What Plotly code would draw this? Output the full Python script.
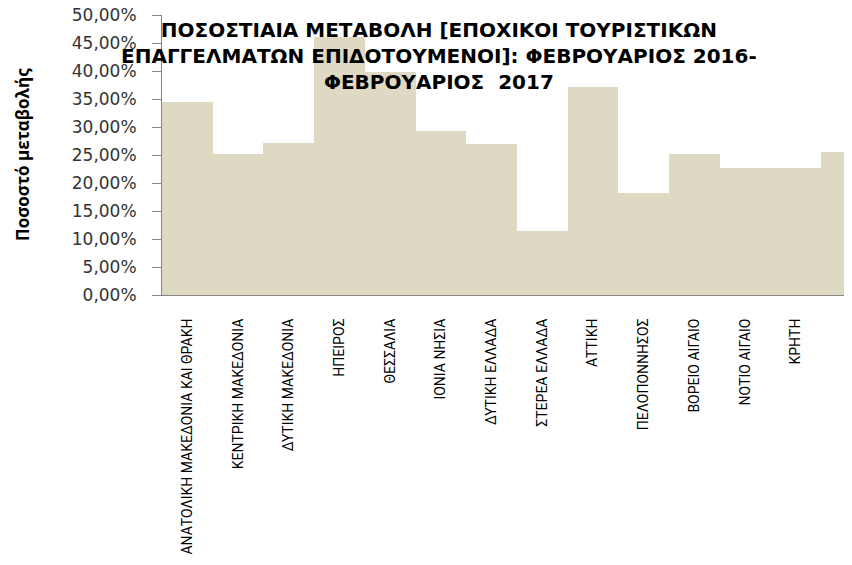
import plotly.graph_objects as go

categories = [
    "ΑΝΑΤΟΛΙΚΗ ΜΑΚΕΔΟΝΙΑ ΚΑΙ ΘΡΑΚΗ",
    "ΚΕΝΤΡΙΚΗ ΜΑΚΕΔΟΝΙΑ",
    "ΔΥΤΙΚΗ ΜΑΚΕΔΟΝΙΑ",
    "ΗΠΕΙΡΟΣ",
    "ΘΕΣΣΑΛΙΑ",
    "ΙΟΝΙΑ ΝΗΣΙΑ",
    "ΔΥΤΙΚΗ ΕΛΛΑΔΑ",
    "ΣΤΕΡΕΑ ΕΛΛΑΔΑ",
    "ΑΤΤΙΚΗ",
    "ΠΕΛΟΠΟΝΝΗΣΟΣ",
    "ΒΟΡΕΙΟ ΑΙΓΑΙΟ",
    "ΝΟΤΙΟ ΑΙΓΑΙΟ",
    "ΚΡΗΤΗ",
    "ΣΥΝΟΛΟ",
]
values = [0.344, 0.251, 0.272, 0.461, 0.398, 0.292, 0.269, 0.115,
          0.372, 0.183, 0.251, 0.226, 0.226, 0.256]

title_text = ("ΠΟΣΟΣΤΙΑΙΑ ΜΕΤΑΒΟΛΗ [ΕΠΟΧΙΚΟΙ ΤΟΥΡΙΣΤΙΚΩΝ<br>"
              "ΕΠΑΓΓΕΛΜΑΤΩΝ ΕΠΙΔΟΤΟΥΜΕΝΟΙ]: ΦΕΒΡΟΥΑΡΙΟΣ 2016-<br>"
              "ΦΕΒΡΟΥΑΡΙΟΣ  2017")
y_title = "Ποσοστό μεταβολής"

fig = go.Figure()
fig.add_trace(go.Bar(
    x=list(range(len(categories))),
    y=values,
    marker=dict(color="#DDD9C3", line=dict(width=0)),
    width=1.0,
    hoverinfo="y",
))

# page body has an 8px offset
OFF = 8
W, H = 852 - OFF, 565 - OFF
ml, mt = 162 - OFF, 15 - OFF
mb = H - (295 - OFF)
plot_w = W - ml
plot_h = H - mt - mb
bar_px = 50.7

def px_x(p):
    return (p - OFF - ml) / plot_w

def px_y(p):
    return 1 - (p - OFF - mt) / plot_h

fig.update_layout(
    width=W, height=H,
    margin=dict(l=ml, r=0, t=mt, b=mb, pad=0, autoexpand=False),
    plot_bgcolor="white", paper_bgcolor="white",
    separators=",.",
    showlegend=False,
    bargap=0,
    xaxis=dict(
        range=[-0.5, -0.5 + plot_w / bar_px],
        tickmode="array",
        tickvals=list(range(len(categories))),
        ticktext=categories,
        tickangle=-90,
        showline=True, linecolor="#868686", linewidth=1,
        ticks="", showgrid=False, zeroline=False,
        tickfont=dict(family="Roboto", size=14, color="#000000"),
        ticklabelstandoff=17,
        automargin=False,
    ),
    yaxis=dict(
        range=[0, 0.5],
        dtick=0.05,
        tickformat=".2%",
        showline=True, linecolor="#868686", linewidth=1,
        ticks="outside", ticklen=9, tickcolor="#868686",
        showgrid=False, zeroline=False,
        tickfont=dict(family="DejaVu Sans", size=17, color="#333333"),
        ticklabelstandoff=12,
        ticklabeloverflow="allow",
        automargin=False,
    ),
    annotations=[
        dict(
            text=title_text, xref="paper", yref="paper",
            x=px_x(439), y=px_y(56),
            xanchor="center", yanchor="middle", showarrow=False,
            font=dict(family="DejaVu Sans", size=20, color="#000000", weight="bold"),
            align="center",
        ),
        dict(
            text=y_title, xref="paper", yref="paper",
            x=px_x(22), y=px_y(155),
            xanchor="center", yanchor="middle", showarrow=False,
            textangle=-90,
            font=dict(family="Open Sans", size=17, color="#000000", weight="bold"),
        ),
    ],
)

fig.write_html("out.html")
